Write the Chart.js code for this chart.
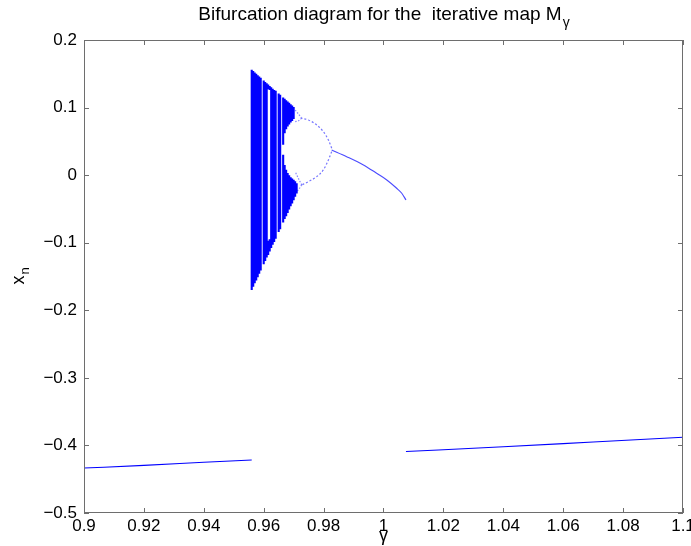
<!DOCTYPE html>
<html>
<head>
<meta charset="utf-8">
<script src="https://cdn.jsdelivr.net/npm/chart.js@4/dist/chart.umd.min.js"></script>
<style>
html, body { margin: 0; padding: 0; background: #fff; }
#wrap { width: 691px; height: 546px; position: relative; }
</style>
</head>
<body>
<div id="wrap"><canvas id="c"></canvas></div>
<script>
// chaotic band: one vertical stroke per gamma column (top / bottom edge, white hole inside)
const bandGamma  = [0.9560, 0.9565, 0.9570, 0.9575, 0.9580, 0.9585, 0.9590, 0.9600, 0.9605, 0.9610,
                    0.9615, 0.9620, 0.9625, 0.9630, 0.9635, 0.9640, 0.9650, 0.9655, 0.9665, 0.9670,
                    0.9675, 0.9680, 0.9685, 0.9690, 0.9695, 0.9700, 0.9705, 0.9710];
const bandTop    = [0.156, 0.154, 0.152, 0.150, 0.148, 0.146, 0.144, 0.140, 0.138, 0.136,
                    0.134, 0.132, 0.130, 0.128, 0.126, 0.125, 0.121, 0.119, 0.115, 0.113,
                    0.111, 0.109, 0.107, 0.105, 0.103, 0.101, null, null];
const bandBottom = [-0.170, -0.165, -0.160, -0.156, -0.151, -0.146, -0.141, -0.132, -0.127, -0.122,
                    -0.118, -0.113, -0.108, -0.103, -0.099, -0.094, -0.084, -0.080, -0.070, -0.065,
                    -0.061, -0.056, -0.051, -0.046, -0.042, -0.037, -0.032, -0.027];
const holeTop    = [null, null, null, null, null, null, null, null, null, null,
                    0.127, 0.126, null, null, null, null, null, null, 0.045, 0.062,
                    0.068, 0.072, 0.075, 0.078, 0.080, 0.083, null, null];
const holeBottom = [null, null, null, null, null, null, null, null, null, null,
                    -0.097, -0.095, null, null, null, null, null, null, 0.030, 0.015,
                    0.008, 0.003, 0.000, -0.003, -0.005, -0.007, -0.009, -0.012];

// period-1 branch
const p1Gamma = [0.9827, 0.9877, 0.9933, 0.9977, 1.0011, 1.0044, 1.0061, 1.0075];
const p1X     = [0.0373, 0.0274, 0.0151, 0.0028, -0.0071, -0.0194, -0.0268, -0.0367];

// period-2 bubble
const p2Gamma = [0.9827, 0.9816, 0.9799, 0.9777, 0.9749, 0.9727];
const p2Upper = [0.0398, 0.0521, 0.0644, 0.0743, 0.0817, 0.0842];
const p2Lower = [0.0348, 0.0225, 0.0077, -0.0022, -0.0096, -0.0145];

// period-4 splits
const p4Gamma  = [0.9727, 0.9716, 0.9705];
const p4UpperA = [0.0842, 0.0905, 0.0964];
const p4UpperB = [0.0842, 0.0805, 0.0792];
const p4LowerA = [-0.0145, -0.0050, 0.0052];
const p4LowerB = [-0.0145, -0.0215, -0.0268];

// the other attractor, near -0.4
const leftGamma  = [0.900, 0.920, 0.940, 0.956];
const leftX      = [-0.4335, -0.4295, -0.4250, -0.4215];
const rightGamma = [1.0075, 1.040, 1.070, 1.100];
const rightX     = [-0.4090, -0.4020, -0.3950, -0.3880];

const xTicks = [0.9, 0.92, 0.94, 0.96, 0.98, 1, 1.02, 1.04, 1.06, 1.08, 1.1];
const yTicks = [-0.5, -0.4, -0.3, -0.2, -0.1, 0, 0.1, 0.2];

const BLUE = '#0000ff';
const FONT = '"Liberation Sans", Arial, Helvetica, sans-serif';

function pts(xs, ys) {
  return xs.map((g, i) => ({ x: g, y: ys[i] }));
}

function bandPoints() {
  const out = [];
  bandGamma.forEach((g, i) => {
    const hasHole = holeBottom[i] !== null;
    if (bandTop[i] !== null) {
      out.push({ x: g, y: bandTop[i] });
      out.push({ x: g, y: hasHole && holeTop[i] !== null ? holeTop[i] : bandBottom[i] });
      out.push({ x: g, y: null });
    }
    if (hasHole) {
      out.push({ x: g, y: holeBottom[i] });
      out.push({ x: g, y: bandBottom[i] });
      out.push({ x: g, y: null });
    }
  });
  return out;
}

function lineSet(data, width, color, dash) {
  return {
    data: data,
    showLine: true,
    borderColor: color,
    borderWidth: width,
    borderDash: dash || [],
    borderCapStyle: 'butt',
    pointRadius: 0,
    fill: false,
    cubicInterpolationMode: 'monotone'
  };
}

const fmtMinus = s => s.replace('-', '\u2212');

const decorations = {
  id: 'decorations',
  afterDraw(chart) {
    const ctx = chart.ctx;
    const a = chart.chartArea;
    const sx = chart.scales.x, sy = chart.scales.y;
    ctx.save();
    ctx.strokeStyle = '#6e6e6e';
    ctx.lineWidth = 1;
    ctx.strokeRect(Math.round(a.left) + 0.5, Math.round(a.top) + 0.5,
                   Math.round(a.right - a.left) - 1, Math.round(a.bottom - a.top) - 1);
    const tl = 5;
    ctx.beginPath();
    xTicks.forEach(v => {
      const px = Math.round(sx.getPixelForValue(v)) + 0.5;
      ctx.moveTo(px, a.bottom); ctx.lineTo(px, a.bottom - tl);
      ctx.moveTo(px, a.top); ctx.lineTo(px, a.top + tl);
    });
    yTicks.forEach(v => {
      const py = Math.round(sy.getPixelForValue(v)) + 0.5;
      ctx.moveTo(a.left, py); ctx.lineTo(a.left + tl, py);
      ctx.moveTo(a.right, py); ctx.lineTo(a.right - tl, py);
    });
    ctx.stroke();

    // title with subscript
    ctx.fillStyle = '#000';
    ctx.textBaseline = 'alphabetic';
    ctx.textAlign = 'left';
    const main = 'Bifurcation diagram for the  iterative map M';
    ctx.font = '19px ' + FONT;
    const w1 = ctx.measureText(main).width;
    ctx.font = '14px ' + FONT;
    const w2 = ctx.measureText('\u03b3').width;
    const cx = (a.left + a.right) / 2;
    const tx = cx - (w1 + w2) / 2;
    ctx.font = '19px ' + FONT;
    ctx.fillText(main, tx, 20);
    ctx.font = '14px ' + FONT;
    ctx.fillText('\u03b3', tx + w1 + 1, 27);

    // x label
    ctx.font = '18px ' + FONT;
    ctx.textAlign = 'center';
    ctx.fillText('\u03b3', cx, 541);

    // y label x_n rotated
    ctx.translate(24, (a.top + a.bottom) / 2);
    ctx.rotate(-Math.PI / 2);
    ctx.textAlign = 'left';
    ctx.font = '18px ' + FONT;
    const wx = ctx.measureText('x').width;
    ctx.font = '13px ' + FONT;
    const wn = ctx.measureText('n').width;
    ctx.font = '18px ' + FONT;
    ctx.fillText('x', -(wx + wn) / 2, 0);
    ctx.font = '13px ' + FONT;
    ctx.fillText('n', -(wx + wn) / 2 + wx + 1, 5);
    ctx.restore();
  }
};

new Chart(document.getElementById('c'), {
  type: 'scatter',
  data: {
    datasets: [
      Object.assign(lineSet(bandPoints(), 2.1, BLUE), { cubicInterpolationMode: 'default', tension: 0 }),
      lineSet(pts(p1Gamma, p1X), 1.1, 'rgba(30,30,255,0.8)'),
      lineSet(pts(p2Gamma, p2Upper), 1.2, 'rgba(60,60,255,0.7)', [2, 2]),
      lineSet(pts(p2Gamma, p2Lower), 1.2, 'rgba(60,60,255,0.7)', [2, 2]),
      lineSet(pts(p4Gamma, p4UpperA), 1.2, 'rgba(60,60,255,0.6)', [1.5, 1.5]),
      lineSet(pts(p4Gamma, p4UpperB), 1.2, 'rgba(60,60,255,0.6)', [1.5, 1.5]),
      lineSet(pts(p4Gamma, p4LowerA), 1.2, 'rgba(60,60,255,0.6)', [1.5, 1.5]),
      lineSet(pts(p4Gamma, p4LowerB), 1.2, 'rgba(60,60,255,0.6)', [1.5, 1.5]),
      lineSet(pts(leftGamma, leftX), 1.1, BLUE),
      lineSet(pts(rightGamma, rightX), 1.1, BLUE)
    ]
  },
  options: {
    responsive: true,
    maintainAspectRatio: false,
    animation: false,
    layout: { padding: { top: 40, right: 8, left: 0, bottom: 0 } },
    plugins: { legend: { display: false }, tooltip: { enabled: false }, title: { display: false } },
    scales: {
      x: {
        type: 'linear', min: 0.9, max: 1.1,
        afterFit: s => { s.height = 33; s.paddingLeft = 0; s.paddingRight = 0; },
        afterBuildTicks: s => { s.ticks = xTicks.map(v => ({ value: v })); },
        grid: { display: false, drawTicks: false },
        border: { display: false },
        ticks: {
          padding: 3, color: '#000', font: { size: 17, family: FONT },
          maxRotation: 0, autoSkip: false,
          callback: v => fmtMinus(String(Number(v.toFixed(2))))
        }
      },
      y: {
        type: 'linear', min: -0.5, max: 0.2,
        afterFit: s => { s.width = 84; s.paddingTop = 0; s.paddingBottom = 0; },
        afterBuildTicks: s => { s.ticks = yTicks.map(v => ({ value: v })); },
        grid: { display: false, drawTicks: false },
        border: { display: false },
        ticks: {
          padding: 7, color: '#000', font: { size: 17, family: FONT },
          autoSkip: false,
          callback: v => fmtMinus(String(Number(v.toFixed(1))))
        }
      }
    }
  },
  plugins: [decorations]
});
</script>
</body>
</html>
